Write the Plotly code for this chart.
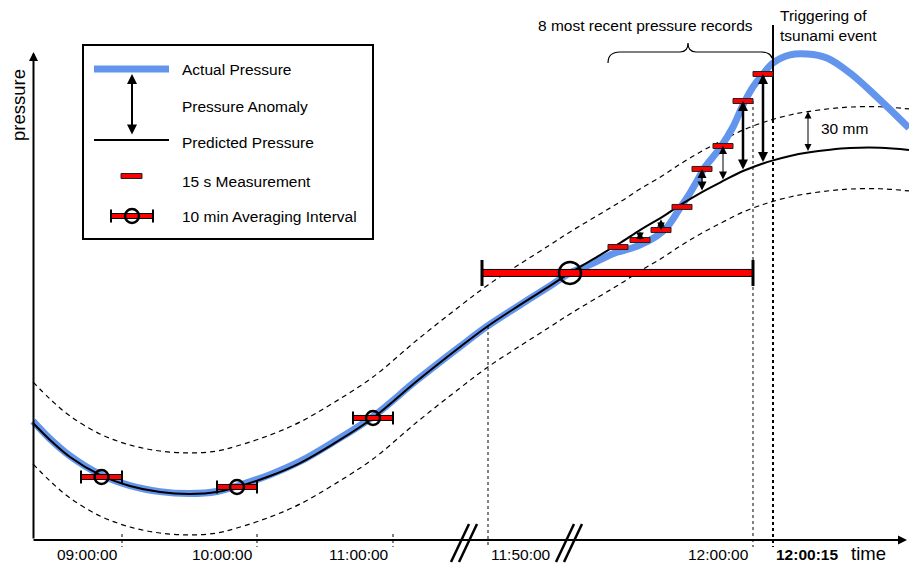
import numpy as np
import plotly.graph_objects as go

W, H = 909, 564
FONT = "Liberation Sans, Arial, sans-serif"
FS = 15.5

# ---------------------------------------------------------------------------
# Data (time in schematic axis units, pressure in mm water column)
# ---------------------------------------------------------------------------
THRESHOLD_MM = 30  # alarm band around the predicted pressure

t_pred = [33, 50, 70, 100, 130, 160, 190, 217, 237, 270, 300, 333, 373, 417,
          460, 488, 520, 550, 570, 600, 620, 640, 662, 682, 702, 723, 743,
          763, 773, 790, 808, 830, 850, 880, 909]
p_pred = [85.6, 73.2, 60.7, 47.6, 39.5, 35.1, 33.7, 35.1, 38.8, 46.8, 56.3,
          70.2, 89.3, 116.3, 141.2, 156.6, 172.0, 185.9, 195.4, 208.5, 217.3,
          226.8, 236.3, 245.9, 254.6, 262.7, 270.0, 275.5, 277.8, 281.0,
          283.5, 285.6, 286.8, 287.0, 285.4]

t_act = [33, 50, 70, 100, 130, 160, 190, 217, 237, 270, 300, 333, 373, 417,
         460, 488, 520, 550, 570, 590, 613, 637, 657, 668, 680, 690, 697, 705,
         720, 733, 742, 753, 763, 773, 790, 807, 827, 850, 877, 909]
p_act = [87.0, 74.0, 61.5, 48.0, 39.8, 35.4, 34.0, 35.5, 39.5, 47.8, 57.5,
         71.5, 90.3, 117.0, 141.5, 156.8, 172.0, 185.9, 195.4, 201.5, 209.5,
         215.0, 222.5, 229.8, 242.9, 253.9, 262.7, 272.9, 286.8, 302.2, 316.8,
         331.5, 341.0, 349.0, 354.9, 355.6, 352.7, 341.7, 324.1, 301.5]

# 15 s records: end time of each record and its value
t_meas = [628, 650, 671, 692, 712, 733, 753, 773]
p_meas = [214.4, 219.5, 226.8, 243.7, 271.5, 288.3, 321.2, 341.0]
MEAS_SPAN = 20  # one 15 s record in axis units

# 10 min averaging intervals
avg_start = [81, 217, 353, 482]
avg_end = [122, 257, 393, 753]
avg_t = [101.5, 237, 373, 570]
avg_p = [46.1, 38.8, 89.3, 195.4]

tick_t = [122, 257, 393]
tick_labels = ["09:00:00", "10:00:00", "11:00:00"]
t_1150, t_1200, t_trigger = 488, 753, 773
t_band_note = 808

# ---------------------------------------------------------------------------
# Helpers for page-anchored decorations
# ---------------------------------------------------------------------------
MM_PER_PX = THRESHOLD_MM / 41.0
BASE_PX = 540


def fx(px):
    return px / W


def fy(py):
    return 1 - py / H


def mm(py):
    return (BASE_PX - py) * MM_PER_PX


fig = go.Figure()

p_pred_arr = np.array(p_pred)
dash_line = dict(color="black", width=1.2, dash="5px,4px", shape="spline")
fig.add_trace(go.Scatter(x=t_pred, y=p_pred_arr + THRESHOLD_MM, mode="lines",
                         line=dash_line, hoverinfo="skip"))
fig.add_trace(go.Scatter(x=t_pred, y=p_pred_arr - THRESHOLD_MM, mode="lines",
                         line=dash_line, hoverinfo="skip"))
fig.add_trace(go.Scatter(x=t_act, y=p_act, mode="lines",
                         line=dict(color="#6495ED", width=7, shape="spline"),
                         hoverinfo="skip"))
fig.add_trace(go.Scatter(x=t_pred, y=p_pred, mode="lines",
                         line=dict(color="black", width=2, shape="spline"),
                         hoverinfo="skip"))

shapes = []
annotations = []

# dotted tick marks on the time axis
for t in tick_t:
    shapes.append(dict(type="line", xref="x", yref="y", x0=t, x1=t,
                       y0=mm(534), y1=mm(547),
                       line=dict(color="black", width=1, dash="dot")))

# guide lines for 11:50:00, 12:00:00 and 12:00:15
shapes.append(dict(type="line", xref="x", yref="y", x0=t_1150, x1=t_1150,
                   y0=float(np.interp(t_1150, t_pred, p_pred)), y1=mm(547),
                   line=dict(color="black", width=1, dash="dot")))
shapes.append(dict(type="line", xref="x", yref="y", x0=t_1200, x1=t_1200,
                   y0=p_meas[6], y1=mm(547),
                   line=dict(color="black", width=1, dash="dot")))
shapes.append(dict(type="line", xref="x", yref="y", x0=t_trigger, x1=t_trigger,
                   y0=mm(120), y1=mm(547),
                   line=dict(color="black", width=2, dash="dot")))
shapes.append(dict(type="line", xref="x", yref="y", x0=t_trigger, x1=t_trigger,
                   y0=mm(25), y1=mm(120),
                   line=dict(color="black", width=2)))

# 10 min averaging intervals
for i, (a, b, t, p) in enumerate(zip(avg_start, avg_end, avg_t, avg_p)):
    big = i == len(avg_t) - 1
    hb = 3.5 if big else 2.5
    hc = 13 if big else 6.5
    r = 11 if big else 7
    shapes.append(dict(type="rect", xref="x", yref="y", x0=a, x1=b,
                       ysizemode="pixel", yanchor=p, y0=-hb, y1=hb,
                       fillcolor="#ff0000", line=dict(color="black", width=1)))
    for c in (a, b):
        shapes.append(dict(type="line", xref="x", yref="y", x0=c, x1=c,
                           ysizemode="pixel", yanchor=p, y0=-hc, y1=hc,
                           line=dict(color="black", width=3 if big else 2)))
    shapes.append(dict(type="circle", xref="x", yref="y",
                       xsizemode="pixel", ysizemode="pixel",
                       xanchor=t, yanchor=p, x0=-r, x1=r, y0=-r, y1=r,
                       line=dict(color="black", width=2.5)))

# 15 s records
for t, p in zip(t_meas, p_meas):
    shapes.append(dict(type="rect", xref="x", yref="y", x0=t - MEAS_SPAN, x1=t,
                       ysizemode="pixel", yanchor=p, y0=-2.5, y1=2.5,
                       fillcolor="#ff0000", line=dict(color="#222", width=1)))

# pressure anomaly arrows between each record and the prediction
arrow_w = [2, 2, 2, 2, 1.5, 1, 2.5, 2.5]
arrow_s = [0.6, 0.75, 0.75, 0.6, 1.2, 1.6, 0.8, 0.8]
for t, p, w, s in zip(t_meas, p_meas, arrow_w, arrow_s):
    tc = t - MEAS_SPAN / 2
    pp = float(np.interp(tc, t_pred, p_pred))
    annotations.append(dict(x=tc, y=p, ax=tc, ay=pp, xref="x", yref="y",
                            axref="x", ayref="y", text="", showarrow=True,
                            arrowside="end+start", arrowhead=2, startarrowhead=2,
                            arrowsize=s, startarrowsize=s, arrowwidth=w,
                            arrowcolor="black"))

# 30 mm band width marker
pb = float(np.interp(t_band_note, t_pred, p_pred))
annotations.append(dict(x=t_band_note, y=pb + THRESHOLD_MM, ax=t_band_note, ay=pb,
                        xref="x", yref="y", axref="x", ayref="y", text="",
                        showarrow=True, arrowside="end+start", arrowhead=2,
                        startarrowhead=2, arrowsize=1.4, startarrowsize=1.4,
                        arrowwidth=1, arrowcolor="black"))

# axes with arrow heads
annotations.append(dict(x=fx(33.5), y=fy(52), xref="paper", yref="paper",
                        ax=0, ay=488, text="", showarrow=True, arrowhead=2,
                        arrowsize=0.9, arrowwidth=2, arrowcolor="black"))
annotations.append(dict(x=fx(907), y=fy(540), xref="paper", yref="paper",
                        ax=-875, ay=0, text="", showarrow=True, arrowhead=2,
                        arrowsize=0.9, arrowwidth=2, arrowcolor="black"))

# axis break marks
for x0 in (451, 556):
    for dx in (0, 8):
        shapes.append(dict(type="line", xref="paper", yref="paper",
                           x0=fx(x0 + dx), y0=fy(562), x1=fx(x0 + dx + 18), y1=fy(524),
                           line=dict(color="black", width=2.5)))

# brace over the most recent records
brace_pts = [(608, 63), (608, 52), (620, 52), (680, 52), (688, 52), (688, 43),
             (688, 52), (696, 52), (761, 52), (773, 52), (773, 63)]
P = [(fx(a), fy(b)) for a, b in brace_pts]
path = (f"M {P[0][0]},{P[0][1]} Q {P[1][0]},{P[1][1]} {P[2][0]},{P[2][1]} "
        f"L {P[3][0]},{P[3][1]} Q {P[4][0]},{P[4][1]} {P[5][0]},{P[5][1]} "
        f"Q {P[6][0]},{P[6][1]} {P[7][0]},{P[7][1]} L {P[8][0]},{P[8][1]} "
        f"Q {P[9][0]},{P[9][1]} {P[10][0]},{P[10][1]}")
shapes.append(dict(type="path", xref="paper", yref="paper", path=path,
                   line=dict(color="black", width=1.2)))

# legend box and its keys
shapes.append(dict(type="rect", xref="paper", yref="paper",
                   x0=fx(83), x1=fx(373), y0=fy(45), y1=fy(239),
                   fillcolor="white", line=dict(color="black", width=2)))
shapes.append(dict(type="line", xref="paper", yref="paper",
                   x0=fx(94), x1=fx(169), y0=fy(69), y1=fy(69),
                   line=dict(color="#6495ED", width=7)))
shapes.append(dict(type="line", xref="paper", yref="paper",
                   x0=fx(94), x1=fx(169), y0=fy(140), y1=fy(140),
                   line=dict(color="black", width=2)))
annotations.append(dict(x=fx(132), y=fy(74), xref="paper", yref="paper",
                        ax=0, ay=62, text="", showarrow=True,
                        arrowside="end+start", arrowhead=2, startarrowhead=2,
                        arrowsize=1, startarrowsize=1, arrowwidth=2,
                        arrowcolor="black"))
shapes.append(dict(type="rect", xref="paper", yref="paper",
                   x0=fx(121), x1=fx(142), y0=fy(173.5), y1=fy(178.5),
                   fillcolor="#ff0000", line=dict(color="#222", width=1)))
shapes.append(dict(type="rect", xref="paper", yref="paper",
                   x0=fx(111), x1=fx(153), y0=fy(213.5), y1=fy(218.5),
                   fillcolor="#ff0000", line=dict(color="black", width=1)))
for c in (111, 153):
    shapes.append(dict(type="line", xref="paper", yref="paper",
                       x0=fx(c), x1=fx(c), y0=fy(209.5), y1=fy(222.5),
                       line=dict(color="black", width=2)))
shapes.append(dict(type="circle", xref="paper", yref="paper",
                   x0=fx(125), x1=fx(139), y0=fy(209), y1=fy(223),
                   line=dict(color="black", width=2.5)))

legend_text = ["Actual Pressure", "Pressure Anomaly", "Predicted Pressure",
               "15 s Measurement", "10 min Averaging Interval"]
legend_y = [69, 106, 143, 181, 216]
for txt, yy in zip(legend_text, legend_y):
    annotations.append(dict(x=fx(180), y=fy(yy), xref="paper", yref="paper",
                            text=txt, showarrow=False, xanchor="left",
                            yanchor="middle", font=dict(size=FS, color="black")))


# text labels
def label(txt, x, y, xanchor="center", size=FS, angle=0, align="left"):
    annotations.append(dict(x=fx(x), y=fy(y), xref="paper", yref="paper",
                            text=txt, showarrow=False, xanchor=xanchor,
                            yanchor="middle", textangle=angle, align=align,
                            font=dict(size=size, color="black")))


for t, lab in zip(tick_t, tick_labels):
    label(lab, t - 2, 554, xanchor="right")
label("11:50:00", t_1150 + 1, 554, xanchor="left")
label("12:00:00", t_1200 - 2, 554, xanchor="right")
label("<b>12:00:15</b>", t_trigger + 1, 554, xanchor="left")
label("time", 868, 553, size=18.5)
label("pressure", 18, 105, size=18.5, angle=-90)
label("8 most recent pressure records", 645, 25)
label("Triggering of<br>tsunami event", 778, 25, xanchor="left")
label("30 mm", 819, 128, xanchor="left")

fig.update_layout(
    width=W, height=H,
    margin=dict(l=0, r=0, t=0, b=0),
    paper_bgcolor="white", plot_bgcolor="white",
    showlegend=False,
    font=dict(family=FONT, size=FS, color="black"),
    xaxis=dict(range=[0, W], visible=False, fixedrange=True),
    yaxis=dict(range=[mm(H), mm(0)], visible=False, fixedrange=True),
    shapes=[dict(s, layer="above") for s in shapes],
    annotations=annotations,
)

fig.write_html("out.html")
